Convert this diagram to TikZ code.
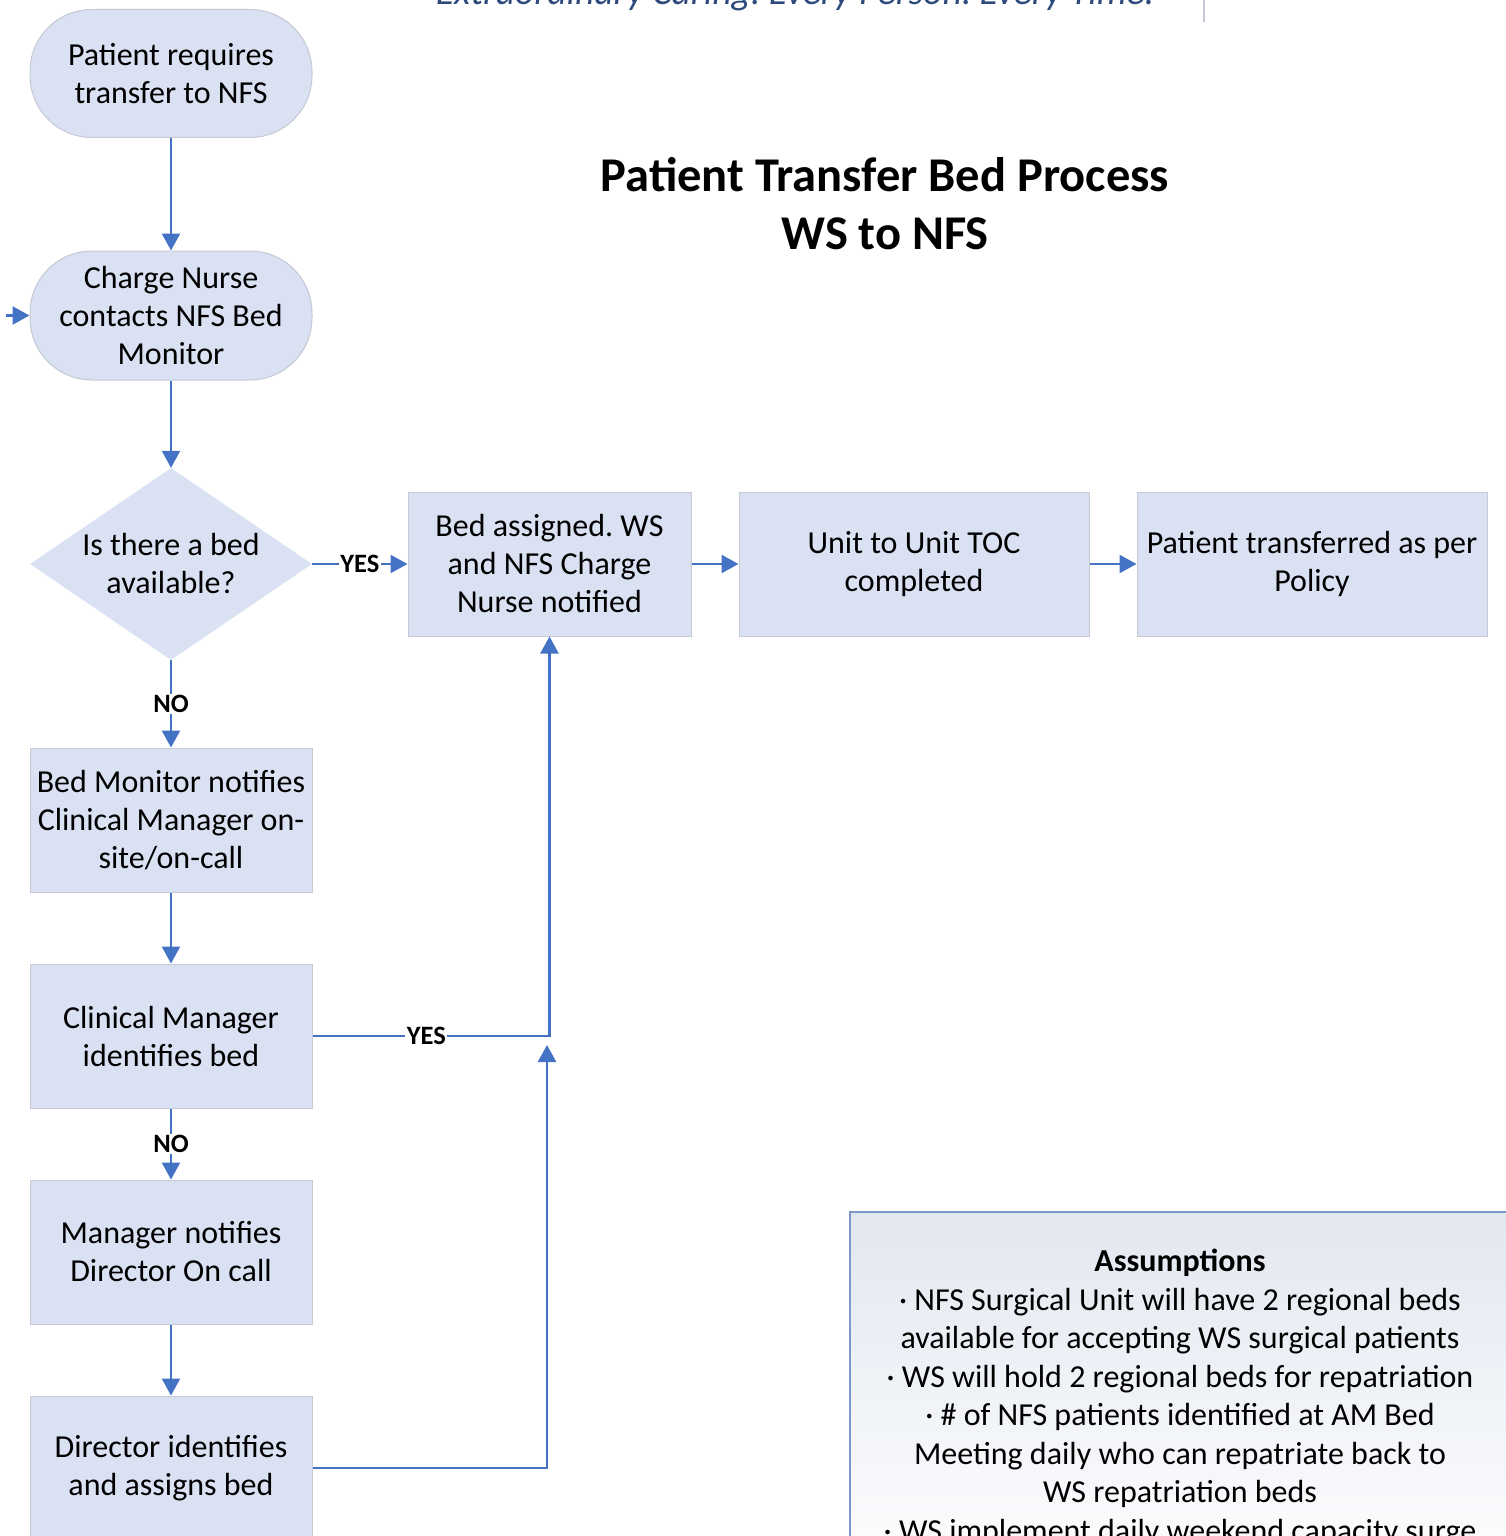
\documentclass[tikz,border=0pt]{standalone}
\usepackage{fontspec}
\setmainfont{Carlito}
\frenchspacing
\usetikzlibrary{arrows.meta,shapes.geometric}
\definecolor{boxfill}{HTML}{DAE1F3}
\definecolor{boxline}{HTML}{C4C9D4}
\definecolor{arrowblue}{HTML}{4472C4}
\definecolor{slogan}{HTML}{2E4A7D}
\definecolor{asline}{HTML}{7C97C8}
\definecolor{astop}{HTML}{E2E7F0}
\begin{document}
\begin{tikzpicture}[x=1pt,y=-1pt,
  txt/.style={font=\fontsize{32}{38}\selectfont},
  proc/.style={rectangle, draw=boxline, fill=boxfill, line width=1pt, minimum width=282pt, minimum height=144pt, align=center, inner sep=0pt, txt},
  term/.style={rectangle, rounded corners=62pt, draw=boxline, fill=boxfill, line width=1pt, minimum width=282pt, minimum height=128pt, align=center, inner sep=0pt, txt},
  dec/.style={diamond, aspect=1.47, fill=boxfill, minimum width=282pt, minimum height=192pt, inner sep=0pt, align=center, txt},
  arr/.style={draw=arrowblue, line width=2.5pt, -{Triangle[length=17pt,width=18pt]}},
  lbl/.style={fill=white, inner sep=1.5pt, font=\fontsize{26.5}{28}\selectfont\bfseries},
]
\useasboundingbox (0,0) rectangle (1506,1536);
\clip (0,0) rectangle (1506,1536);

% slogan (cut off at the top)
\node[anchor=base, font=\fontsize{37.5}{40}\selectfont\itshape, text=slogan, inner sep=0pt] (slogan) at (795,5) {Extraordinary Caring. Every Person. Every Time.};
\draw[draw=boxline, line width=1.5pt] (1204,0) -- (1204,22);

% title
\node[align=center, font=\fontsize{48.5}{58}\selectfont\bfseries, inner sep=0pt] (title) at (885,204) {Patient Transfer Bed Process\\WS to NFS};

% nodes
\node[term] (n1) at (171,73.5) {Patient requires\\transfer to NFS};
\node[term, minimum height=129pt] (n2) at (171,315.5) {Charge Nurse\\contacts NFS Bed\\Monitor};
\node[dec] (dia) at (171,564) {Is there a bed\\available?};
\node[proc, minimum width=283pt] (a) at (549.5,564) {Bed assigned. WS\\and NFS Charge\\Nurse notified};
\node[proc, minimum width=350pt] (b) at (914,564) {Unit to Unit TOC\\completed};
\node[proc, minimum width=350pt] (c) at (1312,564) {Patient transferred as per\\Policy};
\node[proc] (d) at (171,820) {Bed Monitor notifies\\Clinical Manager on-\\site/on-call};
\node[proc] (e) at (171,1036) {Clinical Manager\\identifies bed};
\node[proc] (f) at (171,1252) {Manager notifies\\Director On call};
\node[proc] (g) at (171,1468) {Director identifies\\and assigns bed};

% assumptions box
\shade[top color=astop, bottom color=white, draw=asline, line width=1.5pt] (850,1212) rectangle (1525,1600);
\node[anchor=north, align=center, inner sep=0pt, font=\fontsize{32}{38.5}\selectfont] (assump) at (1180,1249) {\textbf{Assumptions}\\
· NFS Surgical Unit will have 2 regional beds\\
available for accepting WS surgical patients\\
· WS will hold 2 regional beds for repatriation\\
· \# of NFS patients identified at AM Bed\\
Meeting daily who can repatriate back to\\
WS repatriation beds\\
· WS implement daily weekend capacity surge};

% connectors
\coordinate (inl) at (6,315.5);
\coordinate (gt) at (547,1045);
\draw[arr] (n1) -- (n2);
\draw[arr] (inl) -- (n2.west);
\draw[arr] (n2) -- (dia.north);
\draw[arr] (dia.east) -- node[lbl] {YES} (a.west);
\draw[arr] (a) -- (b);
\draw[arr] (b) -- (c);
\draw[arr] (dia.south) -- node[lbl] {NO} (d.north);
\draw[arr] (d) -- (e);
\draw[arr] (e.east) -| node[lbl, pos=0.24] {YES} (a.south);
\draw[arr] (e.south) -- node[lbl] {NO} (f.north);
\draw[arr] (f) -- (g);
\draw[arr] (g.east) -| (gt);
\end{tikzpicture}
\end{document}
